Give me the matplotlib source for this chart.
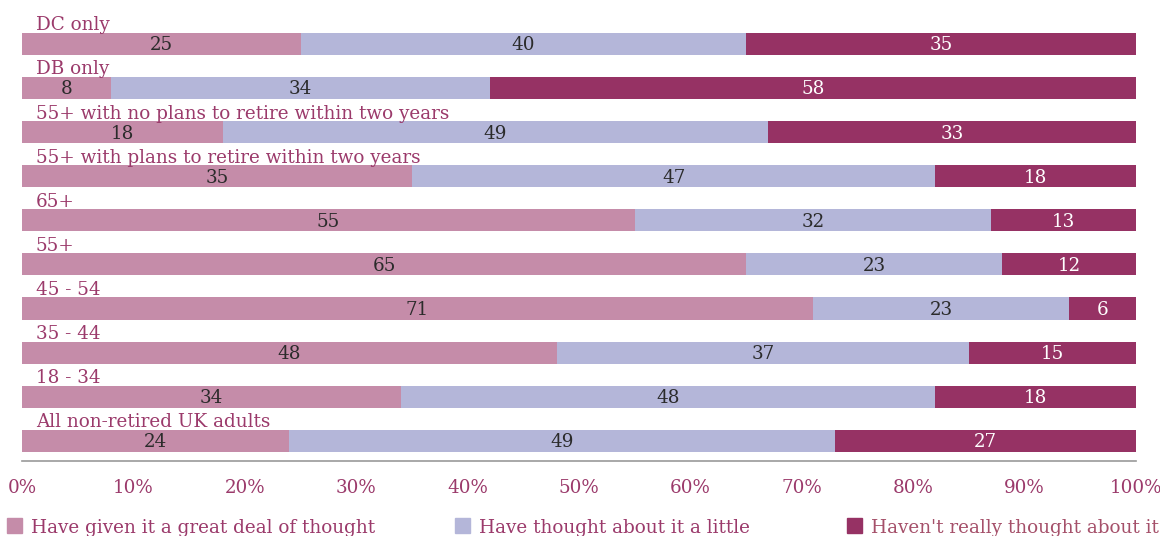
import matplotlib.pyplot as plt
from matplotlib.patches import Rectangle
from matplotlib.ticker import PercentFormatter

categories = [
    "DC only",
    "DB only",
    "55+ with no plans to retire within two years",
    "55+ with plans to retire within two years",
    "65+",
    "55+",
    "45 - 54",
    "35 - 44",
    "18 - 34",
    "All non-retired UK adults",
]
great_deal = [25, 8, 18, 35, 55, 65, 71, 48, 34, 24]
a_little = [40, 34, 49, 47, 32, 23, 23, 37, 48, 49]
not_really = [35, 58, 33, 18, 13, 12, 6, 15, 18, 27]
series_names = [
    "Have given it a great deal of thought",
    "Have thought about it a little",
    "Haven't really thought about it",
]

colors = ["#c58ca9", "#b4b6d9", "#963264"]
num_colors = ["#2b2b2b", "#2b2b2b", "#ffffff"]
label_color = "#9b3a6b"
font = "DejaVu Serif"
fs = 13.2

fig = plt.figure(figsize=(11.6, 5.36), dpi=100)
ax = fig.add_axes([22 / 1160, 1 - 461 / 536, 1114 / 1160, 461 / 536])

y = list(range(len(categories)))
left = [0] * len(categories)
for vals, col, tcol in zip([great_deal, a_little, not_really], colors, num_colors):
    bars = ax.barh(y, vals, height=0.5, left=left, color=col)
    for b, v in zip(bars, vals):
        ax.text(b.get_x() + b.get_width() / 2, b.get_y() + b.get_height() / 2 + 0.03,
                str(v), ha="center", va="center", color=tcol,
                family=font, fontsize=fs)
    left = [l + v for l, v in zip(left, vals)]

# category names sit above each bar
for i, name in enumerate(categories):
    ax.text(1.25, i - 0.31, name, ha="left", va="baseline", color=label_color,
            family=font, fontsize=fs)

ax.set_xlim(0, 100)
ax.set_ylim(9.46, -1.0)
ax.set_yticks([])
ax.set_xticks(range(0, 101, 10))
ax.xaxis.set_major_formatter(PercentFormatter(decimals=0))
ax.tick_params(axis="x", length=0, pad=13, labelcolor=label_color)
for lab in ax.get_xticklabels():
    lab.set_family(font)
    lab.set_fontsize(fs)
for s in ["top", "left", "right"]:
    ax.spines[s].set_visible(False)
ax.spines["bottom"].set_color("#999999")
ax.spines["bottom"].set_linewidth(1.2)

# legend along the bottom
legend_x = [7, 455, 847]
legend_text_colors = [label_color, label_color, "#a5506a"]
for name, col, x0, tc in zip(series_names, colors, legend_x, legend_text_colors):
    fig.patches.append(Rectangle((x0 / 1160, 3 / 536), 15 / 1160, 15 / 536,
                                 transform=fig.transFigure, color=col))
    fig.text((x0 + 24) / 1160, 3 / 536, name, ha="left", va="baseline",
             color=tc, family=font, fontsize=fs)

fig.savefig("out.png", dpi=100)
